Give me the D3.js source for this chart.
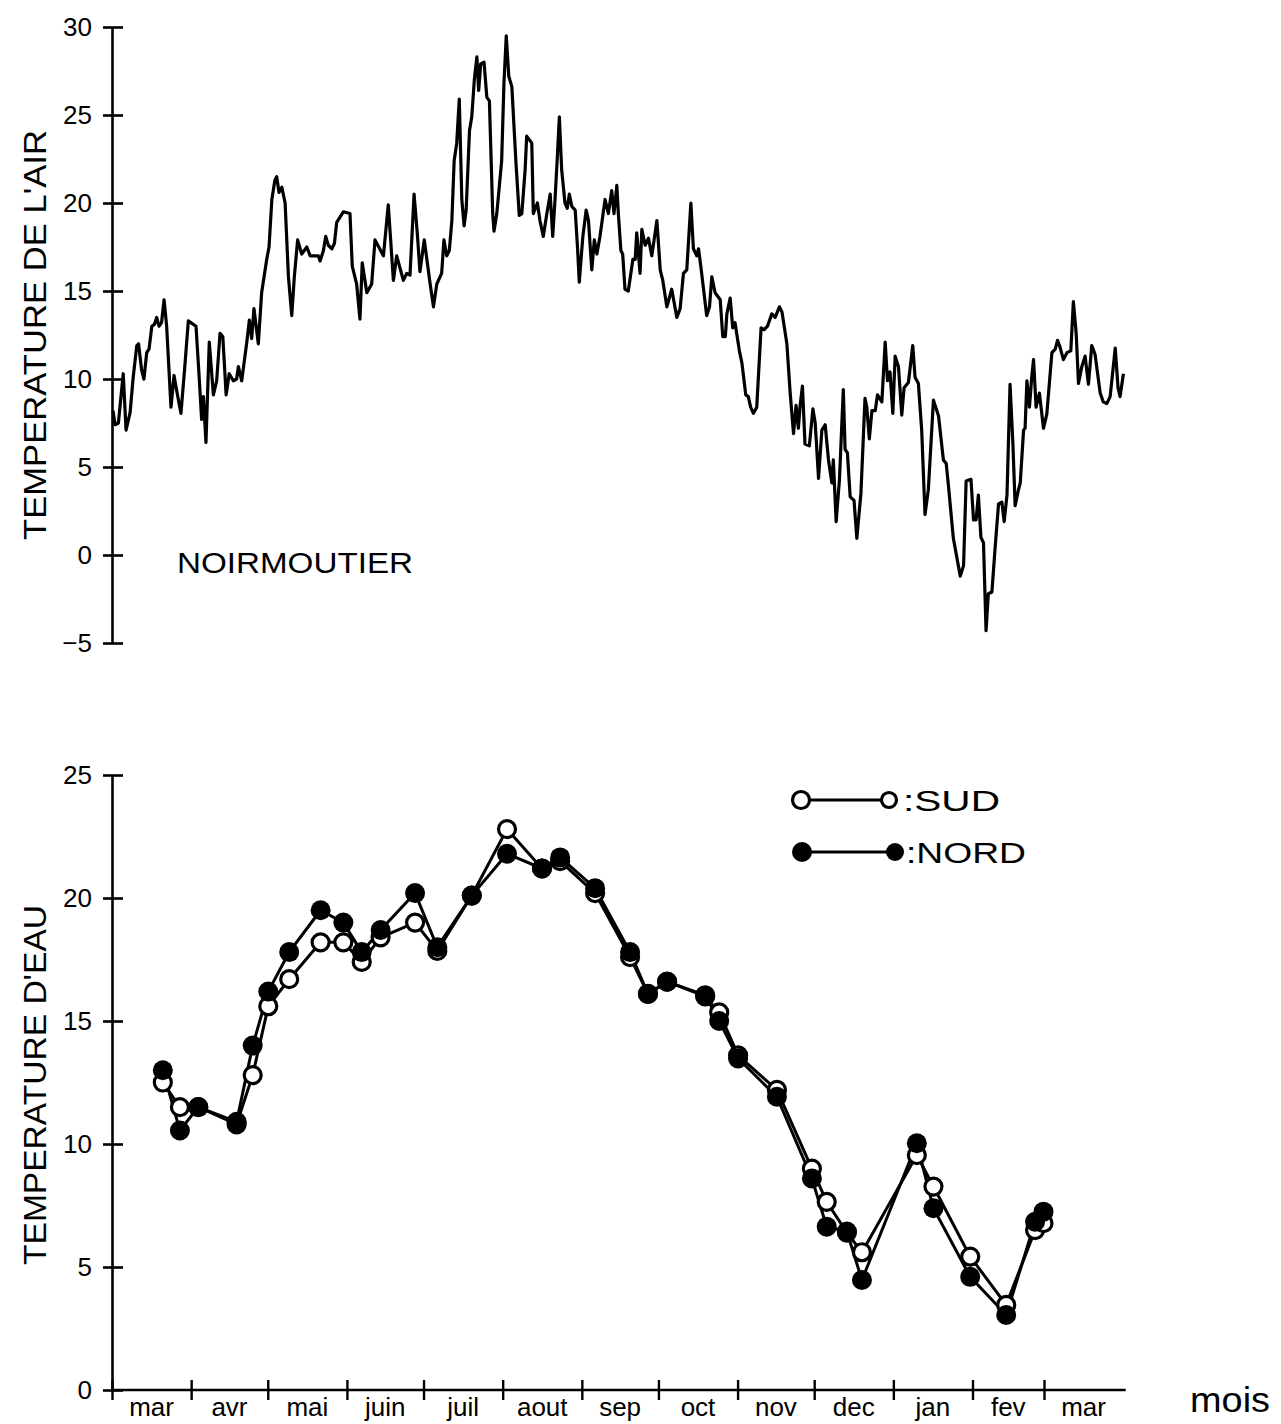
<!DOCTYPE html>
<html><head><meta charset="utf-8">
<script src="https://cdn.jsdelivr.net/npm/d3@7"></script>
<style>body{margin:0;background:#fff}svg{display:block}text{font-family:"Liberation Sans",Arial,sans-serif;fill:#000}</style>
</head><body>
<svg id="c" width="1281" height="1424"></svg>
<script>
// ---- air temperature, Noirmoutier (day from 1 March, deg C)
const airDay = [0.4,1.2,2.5,4.4,5.5,7.1,8.3,9.7,10.4,11.6,12.5,13.6,14.5,15.6,16.6,17.5,18.4,19.4,20.4,21.4,23.1,24.3,25.5,27.0,28.4,29.9,32.9,34.1,35.1,35.8,36.8,38.1,39.7,41.0,42.3,43.4,44.7,45.9,47.5,48.8,49.5,50.8,52.8,53.8,54.7,55.6,57.3,58.6,60.6,61.5,62.6,63.8,64.5,65.4,66.5,67.8,69.1,70.4,71.4,72.7,74.3,76.3,77.6,80.8,81.5,82.8,83.7,84.7,86.1,87.1,88.0,90.6,93.2,94.1,95.8,97.1,98.0,99.8,101.7,103.0,106.3,108.2,110.2,111.5,114.1,115.4,116.7,118.3,119.6,120.6,122.3,124.6,125.9,127.2,129.1,130.0,131.1,132.1,133.1,134.0,135.0,136.0,137.0,137.9,138.7,140.0,140.9,141.9,142.9,143.6,144.4,145.7,146.8,147.8,149.1,149.6,150.7,152.6,153.5,154.4,155.4,156.6,158.2,159.5,160.5,161.8,162.4,164.4,165.0,166.6,167.6,168.9,170.3,171.6,172.6,173.5,174.4,175.2,176.1,177.4,178.3,179.1,180.1,181.4,182.3,183.0,184.4,185.7,186.6,187.9,188.9,189.9,191.1,193.1,194.4,195.7,196.6,197.7,198.3,199.3,200.0,200.9,202.2,204.0,204.9,205.5,206.8,207.5,208.8,210.1,211.4,212.3,213.4,214.7,215.7,217.3,219.2,221.2,222.5,223.8,225.1,226.7,227.7,229.0,229.7,230.6,232.9,234.0,234.9,236.2,238.2,239.2,240.2,240.8,242.1,243.1,244.0,245.7,246.7,248.2,249.2,250.1,251.2,252.5,254.2,255.4,256.7,258.4,259.7,261.4,262.4,264.3,265.6,266.9,267.9,268.8,269.5,270.4,271.4,273.1,274.5,275.4,276.7,278.0,279.3,280.6,281.9,282.5,283.6,284.9,286.4,287.1,288.0,289.1,290.6,291.7,293.3,294.9,295.6,296.6,297.6,298.9,299.8,301.5,302.8,303.7,304.7,305.8,306.7,308.0,309.3,310.2,311.9,313.6,314.5,315.8,317.1,318.4,319.7,321.7,323.7,325.6,326.7,327.6,329.5,332.2,333.5,334.5,336.4,337.4,338.4,339.3,340.3,341.3,342.3,343.2,344.6,345.9,347.2,348.5,349.4,350.5,351.7,352.8,353.7,355.0,355.7,357.0,357.6,358.3,359.3,360.2,360.9,361.9,363.2,364.8,366.1,368.1,369.4,370.3,371.3,372.6,374.0,375.5,376.5,377.6,378.5,379.8,381.1,382.4,383.7,385.0,387.0,388.2,389.6,390.9,392.9,394.0,394.8,396.1];
const airTemp = [8.2,7.4,7.5,10.3,7.1,8.1,10.1,11.9,12.0,10.5,10.0,11.5,11.7,13.0,13.1,13.5,13.0,13.2,14.5,13.0,8.4,10.2,9.2,8.05,10.5,13.3,13.0,10.2,7.7,9.0,6.4,12.1,9.1,9.9,12.6,12.4,9.1,10.3,9.9,10.0,10.7,9.9,12.1,13.35,12.3,14.0,12.0,14.9,16.8,17.5,20.2,21.3,21.5,20.6,20.9,20.0,15.8,13.6,15.8,17.9,17.1,17.5,17.0,17.0,16.7,17.3,18.1,17.6,17.4,17.7,18.9,19.5,19.4,16.4,15.4,13.4,16.6,14.9,15.4,17.9,17.0,19.9,15.6,17.0,15.6,16.0,15.9,20.5,18.2,16.1,17.9,15.4,14.1,15.4,16.0,17.9,17.0,17.3,19.0,22.4,23.4,25.9,20.2,18.7,19.6,24.1,24.9,27.0,28.3,26.4,27.9,28.0,26.0,25.8,19.4,18.4,19.4,22.4,26.8,29.5,27.2,26.6,22.3,19.3,19.4,21.9,23.8,23.4,19.4,20.0,19.0,18.1,19.4,20.5,18.1,20.2,22.6,24.9,21.9,20.0,19.7,20.5,19.8,19.6,17.5,15.5,18.1,19.6,19.0,16.2,17.9,17.1,18.1,20.2,19.4,20.7,19.4,21.0,19.4,17.3,17.1,15.1,15.0,16.8,16.8,18.3,16.0,18.5,17.6,18.0,17.0,17.9,19.0,16.2,15.6,14.1,15.1,13.5,14.0,16.0,16.2,20.0,17.4,17.0,17.4,16.4,13.6,14.1,15.8,14.9,14.5,12.4,12.4,13.7,14.6,12.9,13.2,11.6,10.9,9.1,9.0,8.4,8.05,8.4,12.9,12.8,13.0,13.7,13.5,14.1,13.8,12.0,9.2,6.9,8.5,7.2,8.5,9.6,6.3,6.2,8.3,7.5,4.35,7.1,7.4,5.4,4.1,5.4,1.9,4.3,9.4,6.0,5.8,3.3,3.1,0.95,3.5,8.9,8.4,6.6,8.2,8.2,9.1,8.7,12.1,9.9,10.4,8.05,11.3,10.7,7.95,9.5,9.8,11.9,10.1,9.75,7.1,2.3,3.7,8.8,7.9,5.4,5.2,3.9,0.95,-1.2,-0.6,4.2,4.3,2.0,2.0,3.4,1.0,0.7,-4.3,-2.2,-2.1,0.5,2.9,3.0,1.9,3.4,9.7,6.4,2.8,3.7,4.1,7.1,7.2,9.9,8.4,10.1,11.1,8.4,9.2,7.2,8.0,11.5,11.7,12.2,11.8,11.1,11.5,11.6,14.4,12.6,9.75,10.7,11.3,9.7,11.9,11.4,9.2,8.7,8.6,9.0,11.75,9.5,9.0,10.3];

// ---- water temperature (sampling days, SUD and NORD stations)
const waterDay = [19.9,26.6,33.8,48.8,55.1,61.2,69.4,81.7,90.6,97.8,105.2,118.7,127.4,140.9,154.7,168.4,175.5,189.2,202.9,209.9,217.4,232.3,237.8,245.2,260.4,274.1,279.9,287.8,293.7,315.2,321.7,336.1,350.2,361.5,364.8];
const sudTemp  = [12.5,11.5,11.5,10.8,12.8,15.6,16.7,18.2,18.2,17.4,18.4,19.0,17.85,20.1,22.8,21.2,21.5,20.2,17.6,16.1,16.6,16.0,15.35,13.6,12.2,9.0,7.65,6.4,5.6,9.55,8.27,5.42,3.46,6.5,6.78];
const nordTemp = [13.0,10.55,11.5,10.9,14.0,16.2,17.8,19.5,19.0,17.8,18.7,20.2,18.0,20.1,21.8,21.2,21.65,20.4,17.8,16.1,16.6,16.05,15.0,13.48,11.92,8.6,6.64,6.44,4.47,10.03,7.39,4.6,3.05,6.84,7.25];

// ---- axes
const monthStart  = [0,31,61,92,122,153,184,214,245,275,306,337,365];
const monthEnd    = [31,61,92,122,153,184,214,245,275,306,337,365,396];
const monthLabels = ["mar","avr","mai","juin","juil","aout","sep","oct","nov","dec","jan","fev","mar"];
const airTicks   = [30,25,20,15,10,5,0,-5];
const waterTicks = [25,20,15,10,5,0];

const svg = d3.select("#c");
const x = d3.scaleLinear().domain([0,365]).range([112,1044]);
const yAir = d3.scaleLinear().domain([-5,30]).range([643,27]);
const yWat = d3.scaleLinear().domain([0,25]).range([1390,775]);

function yAxis(scale, ticks) {
  const g = svg.append("g").attr("transform","translate(112,0)")
    .call(d3.axisLeft(scale).tickValues(ticks).tickSize(9).tickSizeOuter(0).tickPadding(11)
      .tickFormat(d => d < 0 ? "\u2212" + Math.abs(d) : d));
  g.select(".domain").attr("stroke","#000").attr("stroke-width",2.6);
  g.selectAll(".tick line").attr("x1",11).attr("x2",-9).attr("stroke","#000").attr("stroke-width",2.6);
  g.selectAll(".tick text").attr("font-size",26).attr("font-family","Liberation Sans, Arial, sans-serif").attr("fill","#000");
  return g;
}
yAxis(yAir, airTicks);
yAxis(yWat, waterTicks);

// x axis (bottom)
const gx = svg.append("g").attr("transform","translate(0,1390)")
  .call(d3.axisBottom(x).tickValues(monthStart).tickSize(10).tickSizeOuter(0).tickFormat(""));
gx.select(".domain").attr("d", `M${x(0)},0H${x(397)}`).attr("stroke","#000").attr("stroke-width",2.6);
gx.selectAll(".tick line").attr("y1",-10).attr("y2",10).attr("stroke","#000").attr("stroke-width",2.4);
svg.append("g").selectAll("text").data(monthLabels).join("text")
  .attr("x",(d,i)=>x((monthStart[i]+monthEnd[i])/2)).attr("y",1416)
  .attr("text-anchor","middle").attr("font-size",26).text(d=>d);
svg.append("text").attr("x",1190).attr("y",1412).attr("font-size",35).attr("textLength",80)
  .attr("lengthAdjust","spacingAndGlyphs").text("mois");

// titles
svg.append("text").attr("transform","translate(46,335) rotate(-90)").attr("text-anchor","middle")
  .attr("font-size",32).attr("textLength",410).attr("lengthAdjust","spacingAndGlyphs").text("TEMPERATURE DE L'AIR");
svg.append("text").attr("transform","translate(46,1085) rotate(-90)").attr("text-anchor","middle")
  .attr("font-size",32).attr("textLength",360).attr("lengthAdjust","spacingAndGlyphs").text("TEMPERATURE D'EAU");
svg.append("text").attr("x",177).attr("y",573).attr("font-size",29).attr("textLength",236)
  .attr("lengthAdjust","spacingAndGlyphs").text("NOIRMOUTIER");

// air line
const airPts = airDay.map((d,i)=>[d, airTemp[i]]);
svg.append("path").datum(airPts)
  .attr("d", d3.line().x(d=>x(d[0])).y(d=>yAir(d[1])))
  .attr("fill","none").attr("stroke","#000").attr("stroke-width",3.2).attr("stroke-linejoin","round");

// water lines
const sud = waterDay.map((d,i)=>[d, sudTemp[i]]);
const nord = waterDay.map((d,i)=>[d, nordTemp[i]]);
const wl = d3.line().x(d=>x(d[0])).y(d=>yWat(d[1]));
[sud, nord].forEach(s => svg.append("path").datum(s).attr("d", wl)
  .attr("fill","none").attr("stroke","#000").attr("stroke-width",3));
svg.append("g").selectAll("circle").data(sud).join("circle")
  .attr("cx",d=>x(d[0])).attr("cy",d=>yWat(d[1])).attr("r",8.5)
  .attr("fill","#fff").attr("stroke","#000").attr("stroke-width",3.2);
svg.append("g").selectAll("circle").data(nord).join("circle")
  .attr("cx",d=>x(d[0])).attr("cy",d=>yWat(d[1])).attr("r",10).attr("fill","#000");

// legend
const lg = svg.append("g");
lg.append("line").attr("x1",808).attr("x2",882).attr("y1",800).attr("y2",800).attr("stroke","#000").attr("stroke-width",2.8);
lg.append("circle").attr("cx",801).attr("cy",800).attr("r",8.5).attr("fill","#fff").attr("stroke","#000").attr("stroke-width",3.2);
lg.append("circle").attr("cx",889).attr("cy",800).attr("r",7.5).attr("fill","#fff").attr("stroke","#000").attr("stroke-width",3.2);
lg.append("text").attr("x",903).attr("y",811).attr("font-size",29).attr("textLength",97)
  .attr("lengthAdjust","spacingAndGlyphs").text(":SUD");
lg.append("line").attr("x1",808).attr("x2",888).attr("y1",852).attr("y2",852).attr("stroke","#000").attr("stroke-width",2.8);
lg.append("circle").attr("cx",802).attr("cy",852).attr("r",10).attr("fill","#000");
lg.append("circle").attr("cx",895).attr("cy",852).attr("r",9).attr("fill","#000");
lg.append("text").attr("x",906).attr("y",863).attr("font-size",29).attr("textLength",120)
  .attr("lengthAdjust","spacingAndGlyphs").text(":NORD");
</script>
</body></html>
